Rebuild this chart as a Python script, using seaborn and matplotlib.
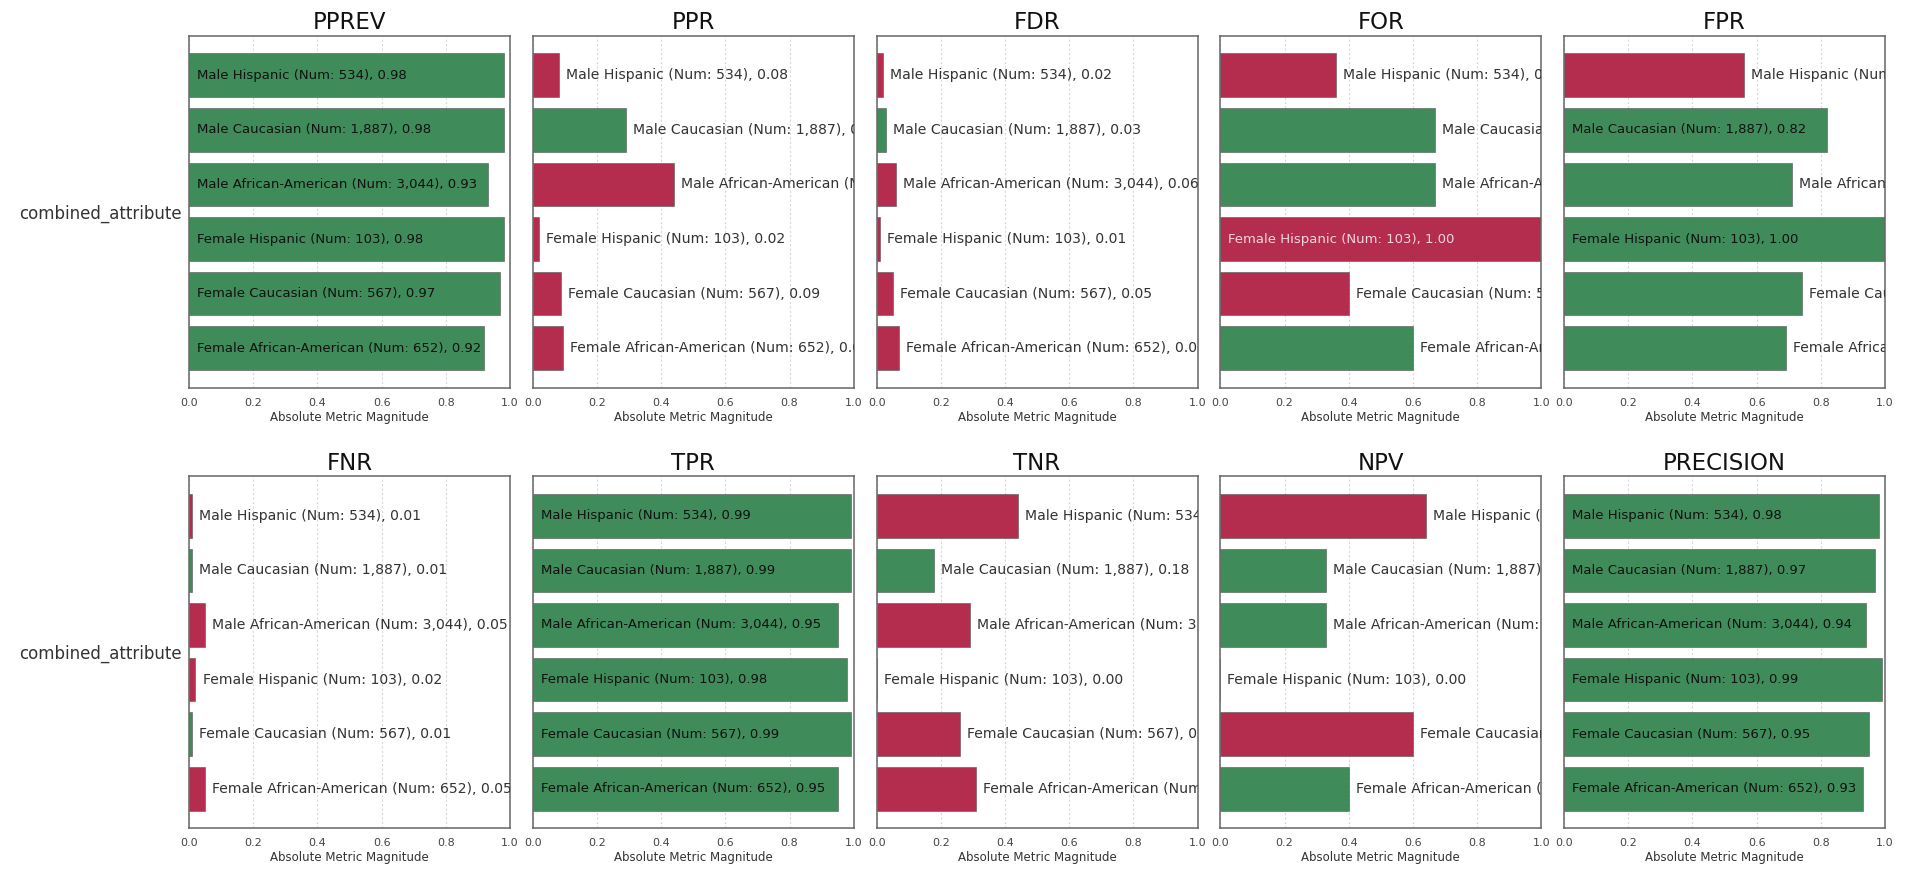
import matplotlib
matplotlib.use("Agg")
import matplotlib.pyplot as plt
import seaborn as sns
import pandas as pd

# Groups (top to bottom) and their sizes
groups = [
    "Male Hispanic",
    "Male Caucasian",
    "Male African-American",
    "Female Hispanic",
    "Female Caucasian",
    "Female African-American",
]
group_sizes = [534, 1887, 3044, 103, 567, 652]

metric_names = ["PPREV", "PPR", "FDR", "FOR", "FPR",
                "FNR", "TPR", "TNR", "NPV", "PRECISION"]

# Absolute metric values per group
pprev = [0.98, 0.98, 0.93, 0.98, 0.97, 0.92]
ppr = [0.08, 0.29, 0.44, 0.02, 0.087, 0.094]
fdr = [0.02, 0.03, 0.06, 0.01, 0.05, 0.07]
for_ = [0.36, 0.67, 0.67, 1.00, 0.40, 0.60]
fpr = [0.56, 0.82, 0.71, 1.00, 0.74, 0.69]
fnr = [0.01, 0.01, 0.05, 0.02, 0.01, 0.05]
tpr = [0.99, 0.99, 0.95, 0.98, 0.99, 0.95]
tnr = [0.44, 0.18, 0.29, 0.00, 0.26, 0.31]
npv = [0.64, 0.33, 0.33, 0.00, 0.60, 0.40]
precision = [0.98, 0.97, 0.94, 0.99, 0.95, 0.93]

# Fairness status per group ("pass" = green, "fail" = red)
pprev_status = ["pass", "pass", "pass", "pass", "pass", "pass"]
ppr_status = ["fail", "pass", "fail", "fail", "fail", "fail"]
fdr_status = ["fail", "pass", "fail", "fail", "fail", "fail"]
for_status = ["fail", "pass", "pass", "fail", "fail", "pass"]
fpr_status = ["fail", "pass", "pass", "pass", "pass", "pass"]
fnr_status = ["fail", "pass", "fail", "fail", "pass", "fail"]
tpr_status = ["pass", "pass", "pass", "pass", "pass", "pass"]
tnr_status = ["fail", "pass", "fail", "fail", "fail", "fail"]
npv_status = ["fail", "pass", "pass", "fail", "fail", "pass"]
precision_status = ["pass", "pass", "pass", "pass", "pass", "pass"]

metric_values = [pprev, ppr, fdr, for_, fpr, fnr, tpr, tnr, npv, precision]
metric_status = [pprev_status, ppr_status, fdr_status, for_status, fpr_status,
                 fnr_status, tpr_status, tnr_status, npv_status, precision_status]

x_ticks = [0.0, 0.2, 0.4, 0.6, 0.8, 1.0]
x_tick_labels = ["0.0", "0.2", "0.4", "0.6", "0.8", "1.0"]

palette = {"pass": "#3f8c5a", "fail": "#b52d4e"}
inside_text = {"pass": "#111111", "fail": "#f4d6de"}

sns.set_style("white")
plt.rcParams["font.family"] = ["DejaVu Sans"]

fig, axes = plt.subplots(
    2, 5, figsize=(19.06, 8.69), dpi=100,
    gridspec_kw=dict(left=0.0992, right=0.989, top=0.9586, bottom=0.0472,
                     wspace=0.071, hspace=0.253),
)

for idx, ax in enumerate(axes.flat):
    name = metric_names[idx]
    vals = metric_values[idx]
    status = metric_status[idx]
    df = pd.DataFrame({"group": groups, "value": vals, "status": status})

    sns.barplot(data=df, y="group", x="value", hue="status", order=groups,
                palette=palette, dodge=False, orient="h", width=0.8,
                legend=False, saturation=1, edgecolor="#555555",
                linewidth=0.4, ax=ax)

    # Label each bar: inside when the bar is long enough, otherwise after it
    for i, (g, n, v, s) in enumerate(zip(groups, group_sizes, vals, status)):
        label = f"{g} (Num: {n:,}), {v:.2f}"
        if v > 0.8:
            ax.text(0.024, i, label, va="center", ha="left", fontsize=9.5,
                    color=inside_text[s], clip_on=True)
        else:
            ax.text(v + 0.022, i, label, va="center", ha="left",
                    fontsize=10.1, color="#333333", clip_on=True)

    ax.set_xlim(0, 1)
    ax.set_ylim(5.72, -0.72)
    ax.set_xticks(x_ticks)
    ax.set_xticklabels(x_tick_labels, fontsize=8, color="#444444")
    ax.set_yticks([2.5])
    ax.set_yticklabels(["combined_attribute" if idx % 5 == 0 else ""],
                       fontsize=12, color="#333333")
    ax.set_ylabel("")
    ax.set_xlabel("Absolute Metric Magnitude", fontsize=8.5, color="#333333",
                  labelpad=2)
    ax.set_title(name, fontsize=16.5, color="#111111", pad=5)

    ax.grid(axis="x", color="#d8d8d8", linestyle=(0, (2, 2)), linewidth=0.8)
    ax.set_axisbelow(True)
    ax.tick_params(axis="x", direction="out", length=4, width=0.8,
                   color="#666666", pad=3.5)
    ax.tick_params(axis="y", direction="out", length=3, width=0.8,
                   color="#666666", pad=2)
    for sp in ax.spines.values():
        sp.set_visible(True)
        sp.set_color("#666666")
        sp.set_linewidth(1.1)

fig.savefig("out.png", dpi=100, facecolor="white")
